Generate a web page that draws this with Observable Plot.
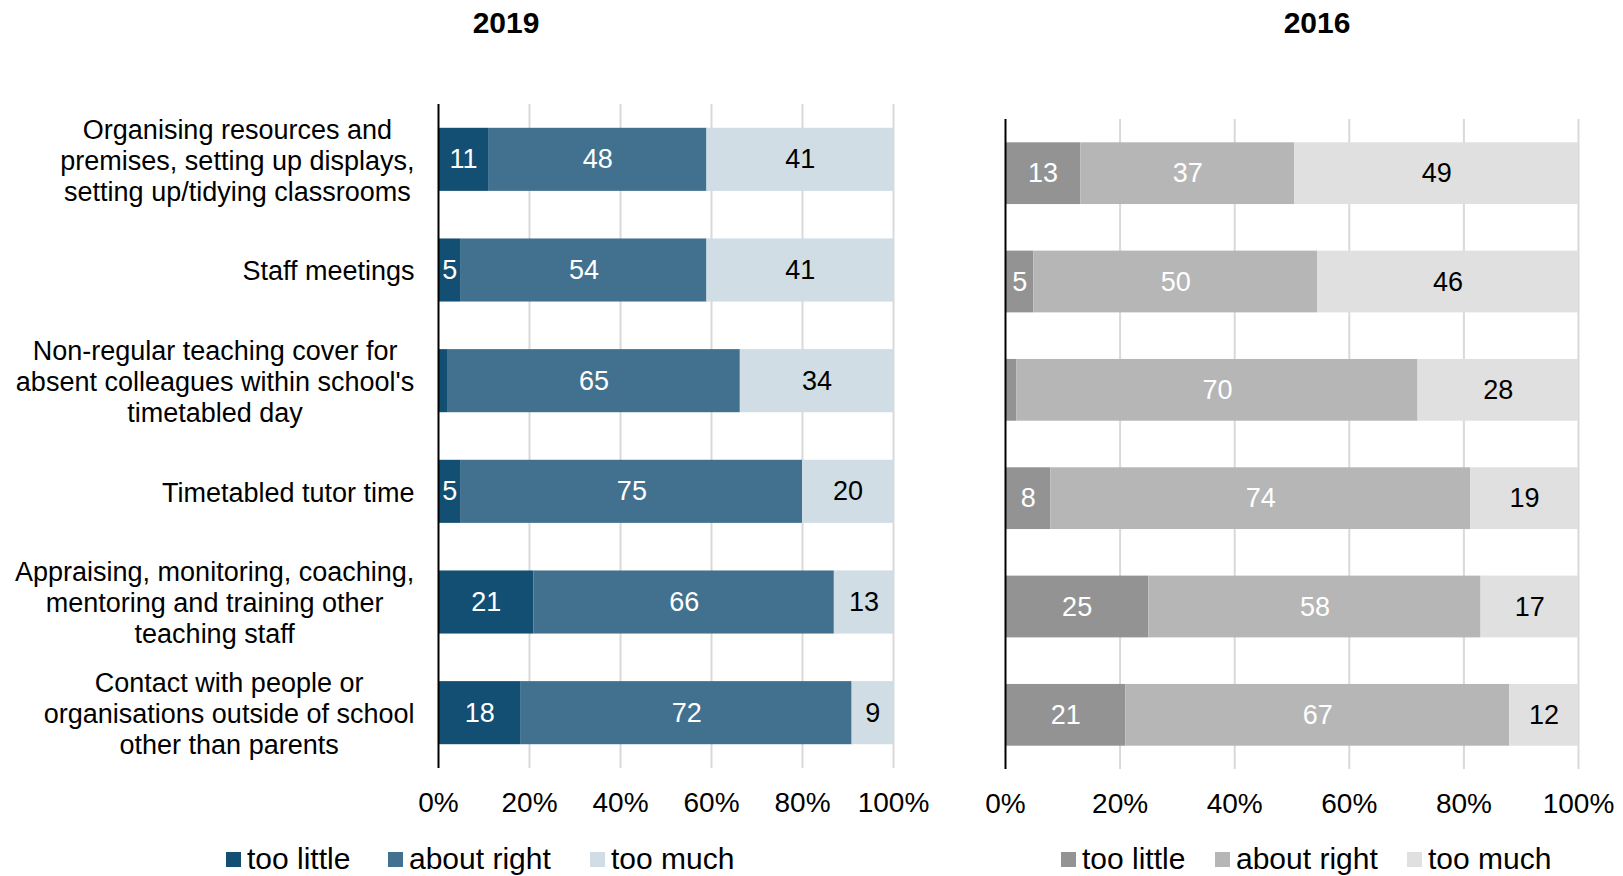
<!DOCTYPE html>
<html>
<head>
<meta charset="utf-8">
<script src="https://cdn.jsdelivr.net/npm/d3@7"></script>
<script src="https://cdn.jsdelivr.net/npm/@observablehq/plot@0.6"></script>
<style>
html, body { margin: 0; padding: 0; background: #fff; }
#root { position: relative; width: 1623px; height: 876px; font-family: "Liberation Sans", Arial, sans-serif; color: #000; overflow: hidden; }
.title { position: absolute; font-weight: bold; font-size: 30px; line-height: 1; transform: translate(-50%, -50%); white-space: nowrap; }
.lg { position: absolute; display: flex; align-items: center; font-size: 30px; line-height: 1; transform: translateY(-50%); white-space: nowrap; }
.lg .sw { display: inline-block; width: 15px; height: 15px; margin-right: 6px; }
.plot { position: absolute; top: 0; }
.plot svg { overflow: visible; }
</style>
</head>
<body>
<div id="root"></div>
<script>
// ---- data ----
const categories = [
  "Organising resources and premises, setting up displays, setting up/tidying classrooms",
  "Staff meetings",
  "Non-regular teaching cover for absent colleagues within school's timetabled day",
  "Timetabled tutor time",
  "Appraising, monitoring, coaching, mentoring and training other teaching staff",
  "Contact with people or organisations outside of school other than parents"
];
const categoryLabels = [
  "Organising resources and\npremises, setting up displays,\nsetting up/tidying classrooms",
  "Staff meetings",
  "Non-regular teaching cover for\nabsent colleagues within school's\ntimetabled day",
  "Timetabled tutor time",
  "Appraising, monitoring, coaching,\nmentoring and training other\nteaching staff",
  "Contact with people or\norganisations outside of school\nother than parents"
];
const responses = ["too little", "about right", "too much"];
const tooLittle2019 = [11, 5, 2, 5, 21, 18];
const aboutRight2019 = [48, 54, 65, 75, 66, 72];
const tooMuch2019 = [41, 41, 34, 20, 13, 9];
const tooLittle2016 = [13, 5, 2, 8, 25, 21];
const aboutRight2016 = [37, 50, 70, 74, 58, 67];
const tooMuch2016 = [49, 46, 28, 19, 17, 12];
const xTicks = [0, 0.2, 0.4, 0.6, 0.8, 1];
const titles = ["2019", "2016"];

const colors2019 = ["#134F72", "#41718F", "#D0DDE5"];
const colors2016 = ["#939393", "#B6B6B6", "#E0E0E0"];

function table(tl, ar, tm) {
  const rows = [];
  categories.forEach((c, i) => {
    rows.push({category: c, response: responses[0], value: tl[i]});
    rows.push({category: c, response: responses[1], value: ar[i]});
    rows.push({category: c, response: responses[2], value: tm[i]});
  });
  return rows;
}

function makePlot(data, colors, o) {
  const stackOpts = {x: "value", y: "category", z: "response", order: responses, offset: "normalize"};
  const marks = [
    Plot.gridX(xTicks.slice(1), {stroke: "#D9D9D9", strokeOpacity: 1, strokeWidth: 2}),
    Plot.barX(data, Plot.stackX({...stackOpts, fill: "response"})),
    Plot.text(data, Plot.stackX({...stackOpts,
      text: d => (d.response !== "too much" && d.value >= 3) ? String(d.value) : null,
      fill: "white"})),
    Plot.text(data, Plot.stackX({...stackOpts,
      text: d => (d.response === "too much") ? String(d.value) : null,
      fill: "black"})),
    Plot.ruleX([0], {stroke: "black", strokeWidth: 2}),
    Plot.axisX({ticks: xTicks, tickFormat: d3.format(".0%"), tickSize: 0, tickPadding: 24, fontSize: 28, label: null})
  ];
  if (o.showY) {
    marks.push(Plot.axisY({
      tickSize: 0, tickPadding: 24, label: null, lineHeight: 1.15,
      tickFormat: d => categoryLabels[categories.indexOf(d)]
    }));
  }
  return Plot.plot({
    width: o.width, height: 830,
    marginLeft: o.ml, marginRight: o.mr, marginTop: o.mt, marginBottom: o.mb,
    style: {fontFamily: "'Liberation Sans', Arial, sans-serif", fontSize: "27px", color: "#000", background: "transparent", overflow: "visible"},
    x: {domain: [0, 1]},
    y: {domain: categories, paddingInner: 0.43, paddingOuter: 0.215, round: false, axis: o.showY ? undefined : null},
    color: {domain: responses, range: colors},
    marks
  });
}

const root = document.getElementById("root");

function addPlot(svg, left, width) {
  const div = document.createElement("div");
  div.className = "plot";
  div.style.left = left + "px";
  div.style.width = width + "px";
  div.appendChild(svg);
  root.appendChild(div);
}

const p1 = makePlot(table(tooLittle2019, aboutRight2019, tooMuch2019), colors2019,
  {width: 960, ml: 438, mr: 960 - 893, mt: 104, mb: 830 - 768, showY: true});
addPlot(p1, 0, 960);
const p2 = makePlot(table(tooLittle2016, aboutRight2016, tooMuch2016), colors2016,
  {width: 663, ml: 45, mr: 45, mt: 119, mb: 830 - 769, showY: false});
addPlot(p2, 960, 663);

// center lines of multi-line category labels inside a right-aligned block
p1.querySelectorAll('g[aria-label="y-axis tick label"] text').forEach(t => {
  const w = t.getBBox().width;
  t.setAttribute("text-anchor", "middle");
  const tr = t.getAttribute("transform") || "";
  t.setAttribute("transform", tr + ` translate(${-w / 2},0)`);
});

// titles
[[titles[0], 506], [titles[1], 1317]].forEach(([txt, x]) => {
  const d = document.createElement("div");
  d.className = "title";
  d.textContent = txt;
  d.style.left = x + "px";
  d.style.top = "23px";
  root.appendChild(d);
});

// legends
function legend(colors, xs) {
  responses.forEach((r, i) => {
    const d = document.createElement("div");
    d.className = "lg";
    d.style.left = xs[i] + "px";
    d.style.top = "859px";
    const sw = document.createElement("span");
    sw.className = "sw";
    sw.style.background = colors[i];
    d.appendChild(sw);
    d.appendChild(document.createTextNode(r));
    root.appendChild(d);
  });
}
legend(colors2019, [226, 388, 590]);
legend(colors2016, [1061, 1215, 1407]);
</script>
</body>
</html>
